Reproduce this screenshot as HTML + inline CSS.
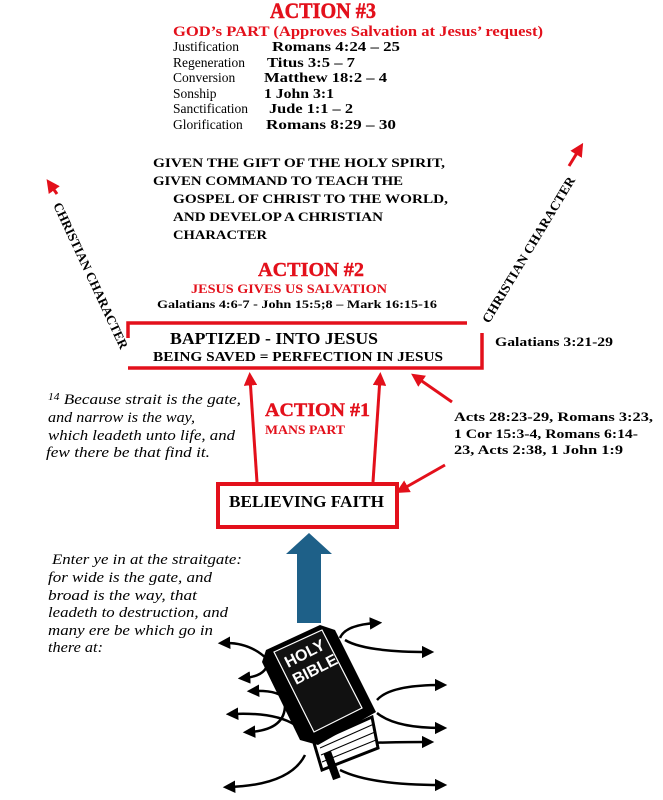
<!DOCTYPE html>
<html><head><meta charset="utf-8"><style>
html,body{margin:0;padding:0;background:#fff;width:663px;height:800px;overflow:hidden}
svg{display:block}
.r{fill:#e3101b}
.sb{font-family:"Liberation Serif",serif;font-weight:bold}
.s{font-family:"Liberation Serif",serif}
.i{font-family:"Liberation Serif",serif;font-style:italic}
</style></head><body>
<svg width="663" height="800" viewBox="0 0 663 800" xmlns="http://www.w3.org/2000/svg">
<defs>
<marker id="ra" markerWidth="4.5" markerHeight="4.5" refX="2.5" refY="2.25" orient="auto" markerUnits="strokeWidth"><path d="M0,0 L4.5,2.25 L0,4.5 Z" fill="#e3101b"/></marker>
<marker id="ka" markerWidth="5" markerHeight="5" refX="2.5" refY="2.5" orient="auto" markerUnits="strokeWidth"><path d="M0,0 L5,2.5 L0,5 Z" fill="#000"/></marker>
</defs>
<text x="270" y="18" class="sb r" font-size="22" stroke="#e3101b" stroke-width="0.5" textLength="106" lengthAdjust="spacingAndGlyphs">ACTION #3</text>
<text x="173" y="36" class="sb r" font-size="14.5" textLength="370" lengthAdjust="spacingAndGlyphs">GOD’s PART (Approves Salvation at Jesus’ request)</text>
<g class="s" font-size="13.5">
<text x="173" y="51">Justification</text>
<text x="173" y="67">Regeneration</text>
<text x="173" y="82">Conversion</text>
<text x="173" y="98">Sonship</text>
<text x="173" y="113">Sanctification</text>
<text x="173" y="129">Glorification</text>
</g>
<g class="sb" font-size="13.5">
<text x="272" y="51" textLength="128" lengthAdjust="spacingAndGlyphs">Romans 4:24 – 25</text>
<text x="267" y="67" textLength="88" lengthAdjust="spacingAndGlyphs">Titus 3:5 – 7</text>
<text x="264" y="82" textLength="123" lengthAdjust="spacingAndGlyphs">Matthew 18:2 – 4</text>
<text x="264" y="98" textLength="70" lengthAdjust="spacingAndGlyphs">1 John 3:1</text>
<text x="269" y="113" textLength="84" lengthAdjust="spacingAndGlyphs">Jude 1:1 – 2</text>
<text x="266" y="129" textLength="130" lengthAdjust="spacingAndGlyphs">Romans 8:29 – 30</text>
</g>
<g class="sb" font-size="13">
<text x="153" y="167" textLength="292" lengthAdjust="spacingAndGlyphs">GIVEN THE GIFT OF THE HOLY SPIRIT,</text>
<text x="153" y="185" textLength="250" lengthAdjust="spacingAndGlyphs">GIVEN COMMAND TO TEACH THE</text>
<text x="173" y="203" textLength="275" lengthAdjust="spacingAndGlyphs">GOSPEL OF CHRIST TO THE WORLD,</text>
<text x="173" y="221" textLength="210" lengthAdjust="spacingAndGlyphs">AND DEVELOP A CHRISTIAN</text>
<text x="173" y="239" textLength="94" lengthAdjust="spacingAndGlyphs">CHARACTER</text>
</g>
<text class="sb" font-size="13" transform="translate(53,205) rotate(65)" textLength="160" lengthAdjust="spacingAndGlyphs">CHRISTIAN CHARACTER</text>
<line x1="57" y1="194" x2="50" y2="184" stroke="#e3101b" stroke-width="3" marker-end="url(#ra)"/>
<text class="sb" font-size="13" transform="translate(489,324) rotate(-59)" textLength="168" lengthAdjust="spacingAndGlyphs">CHRISTIAN CHARACTER</text>
<line x1="569" y1="166" x2="580" y2="148" stroke="#e3101b" stroke-width="3" marker-end="url(#ra)"/>
<text x="258" y="276" class="sb r" font-size="20" stroke="#e3101b" stroke-width="0.4" textLength="106" lengthAdjust="spacingAndGlyphs">ACTION #2</text>
<text x="191" y="293" class="sb r" font-size="13" textLength="196" lengthAdjust="spacingAndGlyphs">JESUS GIVES US SALVATION</text>
<text x="157" y="308" class="sb" font-size="12" textLength="280" lengthAdjust="spacingAndGlyphs">Galatians 4:6-7 - John 15:5;8 – Mark 16:15-16</text>
<path d="M128,338 L128,323 L467,323" fill="none" stroke="#e3101b" stroke-width="3.5"/>
<path d="M482,333 L482,368 L128,368" fill="none" stroke="#e3101b" stroke-width="3.5"/>
<text x="170" y="344" class="sb" font-size="17" textLength="208" lengthAdjust="spacingAndGlyphs">BAPTIZED - INTO JESUS</text>
<text x="153" y="361" class="sb" font-size="14" textLength="290" lengthAdjust="spacingAndGlyphs">BEING SAVED = PERFECTION IN JESUS</text>
<text x="495" y="346" class="sb" font-size="13" textLength="118" lengthAdjust="spacingAndGlyphs">Galatians 3:21-29</text>
<g class="i" font-size="15">
<text x="48" y="404" textLength="193" lengthAdjust="spacingAndGlyphs"><tspan font-size="10" dy="-4">14</tspan><tspan dy="4">  Because strait is the gate,</tspan></text>
<text x="48" y="422" textLength="147" lengthAdjust="spacingAndGlyphs">and narrow is the way,</text>
<text x="48" y="440" textLength="187" lengthAdjust="spacingAndGlyphs">which leadeth unto life, and</text>
<text x="46" y="457" textLength="164" lengthAdjust="spacingAndGlyphs">few there be that find it.</text>
</g>
<text x="265" y="416" class="sb r" font-size="19" stroke="#e3101b" stroke-width="0.4" textLength="105" lengthAdjust="spacingAndGlyphs">ACTION #1</text>
<text x="265" y="434" class="sb r" font-size="12.5" textLength="80" lengthAdjust="spacingAndGlyphs">MANS PART</text>
<g stroke="#e3101b" stroke-width="3" fill="none">
<line x1="257" y1="482" x2="250" y2="378" marker-end="url(#ra)"/>
<line x1="373" y1="482" x2="380" y2="378" marker-end="url(#ra)"/>
<line x1="452" y1="402" x2="416" y2="377" marker-end="url(#ra)"/>
<line x1="445" y1="465" x2="401" y2="490" marker-end="url(#ra)"/>
</g>
<g class="sb" font-size="13">
<text x="454" y="421" textLength="199" lengthAdjust="spacingAndGlyphs">Acts 28:23-29, Romans 3:23,</text>
<text x="454" y="438" textLength="184" lengthAdjust="spacingAndGlyphs">1 Cor 15:3-4, Romans 6:14-</text>
<text x="454" y="454" textLength="169" lengthAdjust="spacingAndGlyphs">23, Acts 2:38, 1 John 1:9</text>
</g>
<rect x="218" y="484" width="179" height="43" fill="none" stroke="#e3101b" stroke-width="4"/>
<text x="229" y="507" class="sb" font-size="16.5" textLength="155" lengthAdjust="spacingAndGlyphs">BELIEVING FAITH</text>
<path d="M309,533 L332,554 L321,554 L321,623 L297,623 L297,554 L286,554 Z" fill="#1e6088"/>
<g class="i" font-size="15">
<text x="52" y="564" textLength="190" lengthAdjust="spacingAndGlyphs">Enter ye in at the straitgate:</text>
<text x="48" y="582" textLength="164" lengthAdjust="spacingAndGlyphs">for wide is the gate, and</text>
<text x="48" y="600" textLength="149" lengthAdjust="spacingAndGlyphs">broad is the way, that</text>
<text x="48" y="617" textLength="180" lengthAdjust="spacingAndGlyphs">leadeth to destruction, and</text>
<text x="48" y="635" textLength="165" lengthAdjust="spacingAndGlyphs">many ere be which go in</text>
<text x="48" y="652" textLength="55" lengthAdjust="spacingAndGlyphs">there at:</text>
</g>
<g stroke="#000" stroke-width="2.5" fill="none">
<path d="M268,660 Q250,642 224,643" marker-end="url(#ka)"/>
<path d="M268,660 Q268,676 244,678" marker-end="url(#ka)"/>
<path d="M285,700 Q280,690 253,691" marker-end="url(#ka)"/>
<path d="M295,725 Q275,712 232,714" marker-end="url(#ka)"/>
<path d="M285,705 Q285,730 249,732" marker-end="url(#ka)"/>
<path d="M305,755 Q290,785 229,787" marker-end="url(#ka)"/>
<path d="M340,638 Q345,625 376,623" marker-end="url(#ka)"/>
<path d="M345,640 Q365,652 428,652" marker-end="url(#ka)"/>
<path d="M377,700 Q390,685 441,685" marker-end="url(#ka)"/>
<path d="M377,713 Q395,728 441,728" marker-end="url(#ka)"/>
<path d="M370,743 Q390,742 428,742" marker-end="url(#ka)"/>
<path d="M340,770 Q370,785 441,785" marker-end="url(#ka)"/>
</g>
<path d="M314,743 L372,717 L378,748 L322,770 Z" fill="#fff" stroke="#000" stroke-width="3"/>
<path d="M320,748 L374,724 M321,755 L375,732 M322,762 L376,740" stroke="#000" stroke-width="1"/>
<rect x="326" y="752" width="8" height="28" fill="#000" transform="rotate(-20 330 760)"/>
<path d="M266,650 L320,625 L335,630 L376,712 L318,745 L300,740 L262,662 Z" fill="#000"/>
<path d="M274,652 L322,630 L362,708 L314,732 Z" fill="#111" stroke="#fff" stroke-width="1.2"/>
<text font-weight="bold" font-size="16" fill="#fff" transform="translate(288,668) rotate(-27)" font-family="Liberation Sans, sans-serif">HOLY</text>
<text font-weight="bold" font-size="16" fill="#fff" transform="translate(296,685) rotate(-27)" font-family="Liberation Sans, sans-serif">BIBLE</text>
</svg>
</body></html>
